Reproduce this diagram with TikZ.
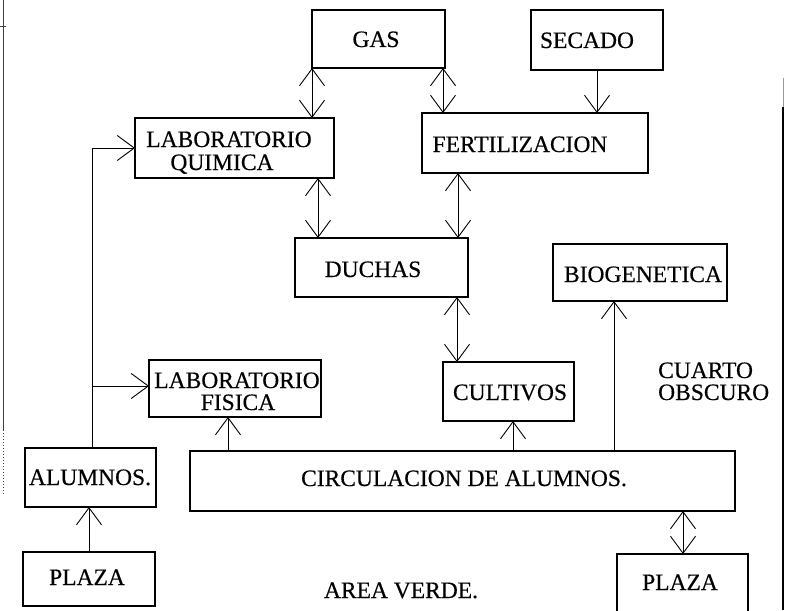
\documentclass[tikz,border=0pt]{standalone}
\usepackage{fontspec}
\setmainfont{Liberation Serif}[FakeBold=0.4]
\newfontfamily\diagfont{Liberation Serif}[FakeBold=0.4]
\usetikzlibrary{arrows.meta}
\tikzset{
  box/.style={draw, line width=1.5pt, inner sep=0pt, outer sep=0pt},
  txt/.style={anchor=base, inner sep=0pt, font=\diagfont\fontsize{23.5}{24}\selectfont},
  txtl/.style={anchor=base west, inner sep=0pt, font=\diagfont\fontsize{23.5}{24}\selectfont},
  conn/.style={line width=0.9pt},
  sgl/.style={conn, -{Straight Barb[length=17pt,width=25pt]}},
  dbl/.style={conn, {Straight Barb[length=17pt,width=25pt]}-{Straight Barb[length=17pt,width=25pt]}},
  edge/.style={line width=1pt, black!75}
}
\begin{document}
\begin{tikzpicture}[x=1pt,y=-1pt]
\useasboundingbox (0,0) rectangle (786,610);
\clip (0,0) rectangle (786,610);
\fill[white] (0,0) rectangle (786,610);

% page border remnants
\draw[edge] (3,0) -- (3,430);
\draw[edge, dotted] (3,430) -- (3,495);
\draw[edge] (0,27) -- (6,27);
\draw[line width=0.8pt, black!40] (783,78) -- (783,107);
\draw[line width=1.2pt] (783,107) -- (783,610);

% boxes
\node[box, minimum width=133pt, minimum height=58pt] (gas) at (378.5,39) {};
\node[box, minimum width=132pt, minimum height=60pt] (secado) at (597,40) {};
\node[box, minimum width=199pt, minimum height=60pt] (labq) at (234.5,148) {};
\node[box, minimum width=226pt, minimum height=60pt] (fert) at (535,143) {};
\node[box, minimum width=173pt, minimum height=59pt] (duchas) at (381.5,267.5) {};
\node[box, minimum width=174pt, minimum height=57pt] (bio) at (640,272.5) {};
\node[box, minimum width=172pt, minimum height=57pt] (labf) at (235,388.5) {};
\node[box, minimum width=131pt, minimum height=59pt] (cult) at (508.5,391.5) {};
\node[box, minimum width=131pt, minimum height=59pt] (alum) at (90.5,477.5) {};
\node[box, minimum width=545pt, minimum height=60pt] (circ) at (462.5,481) {};
\node[box, minimum width=132pt, minimum height=54pt] (plazaL) at (89,579) {};
\node[box, minimum width=131pt, minimum height=60pt] (plazaR) at (682.5,584) {};

% texts
\node[txt] (tgas) at (376,47) {GAS};
\node[txt] (tsecado) at (587,48) {SECADO};
\node[txt] (tlabq1) at (229,147) {LABORATORIO};
\node[txt] (tlabq2) at (222,170) {QUIMICA};
\node[txt] (tfert) at (520,152) {FERTILIZACION};
\node[txt] (tduchas) at (373,277) {DUCHAS};
\node[txt] (tbio) at (643,282) {BIOGENETICA};
\node[txt] (tlabf1) at (237,388) {LABORATORIO};
\node[txt] (tlabf2) at (238,410) {FISICA};
\node[txt] (tcult) at (510,400) {CULTIVOS};
\node[txtl] (tcuarto1) at (658,378) {CUARTO};
\node[txtl] (tcuarto2) at (658,400) {OBSCURO};
\node[txt] (talum) at (90,485) {ALUMNOS.};
\node[txt] (tcirc) at (464,486) {CIRCULACION DE ALUMNOS.};
\node[txt] (tplazaL) at (87,585) {PLAZA};
\node[txt] (tarea) at (401,598) {AREA VERDE.};
\node[txt] (tplazaR) at (680,590) {PLAZA};

% connectors
\draw[dbl] (312,0 |- gas.south) -- (312,0 |- labq.north);
\draw[dbl] (443,0 |- gas.south) -- (443,0 |- fert.north);
\draw[sgl] (secado.south) -- (secado.south |- fert.north);
\draw[dbl] (318,0 |- labq.south) -- (318,0 |- duchas.north);
\draw[dbl] (458,0 |- fert.south) -- (458,0 |- duchas.north);
\draw[dbl] (457,0 |- duchas.south) -- (457,0 |- cult.north);
\draw[sgl] (228,0 |- circ.north) -- (228,0 |- labf.south);
\draw[sgl] (513,0 |- circ.north) -- (513,0 |- cult.south);
\draw[sgl] (614,0 |- circ.north) -- (614,0 |- bio.south);
\draw[dbl] (683,0 |- circ.south) -- (683,0 |- plazaR.north);
\draw[sgl] (89,0 |- plazaL.north) -- (89,0 |- alum.south);
\draw[sgl] (92,0 |- alum.north) |- (labq.west);
\coordinate (br) at (92,386);
\draw[sgl] (br) -- (br -| labf.west);
\end{tikzpicture}
\end{document}
